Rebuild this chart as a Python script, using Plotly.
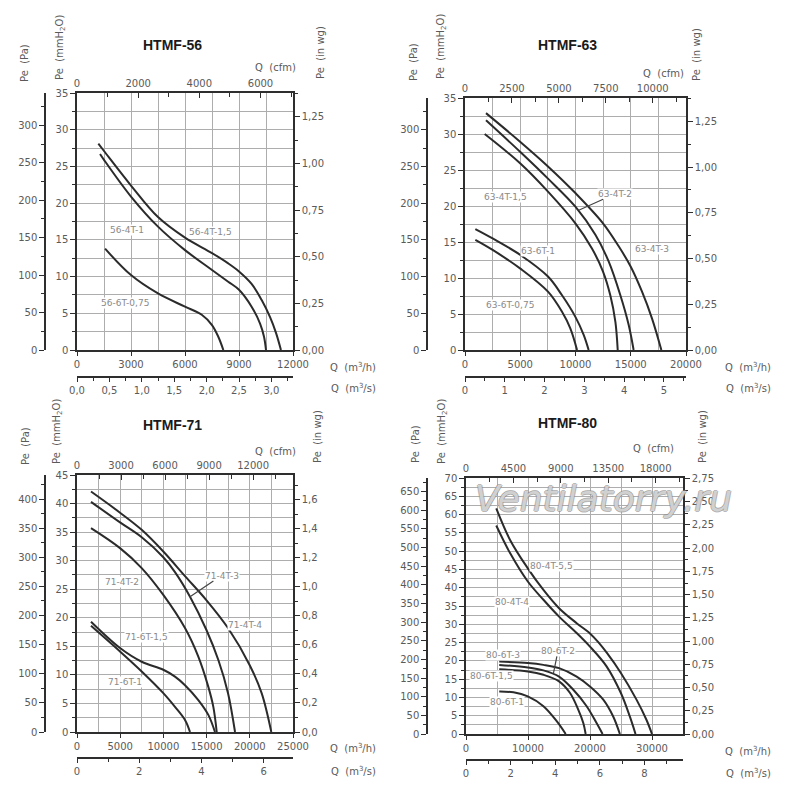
import plotly.graph_objects as go

# ---------------- data (Q in m3/h, Pe in mmH2O) ----------------
titles = ["HTMF-56", "HTMF-63", "HTMF-71", "HTMF-80"]

# HTMF-56
q56_4t15 = [1185, 1500, 3000, 4500, 6000, 7500, 8400, 9000, 9700, 10260, 10720, 11060, 11330]
p56_4t15 = [28.1, 27.1, 22.4, 18.1, 15.3, 13.2, 11.8, 10.7, 9.0, 6.8, 4.5, 2.3, 0]
q56_4t1 = [1280, 1500, 3000, 4500, 6000, 7500, 8400, 9000, 9700, 10170, 10390, 10500]
p56_4t1 = [26.7, 25.9, 20.9, 16.8, 13.6, 10.9, 9.3, 8.2, 5.9, 3.6, 1.8, 0]
q56_6t075 = [1560, 3000, 4500, 6000, 6930, 7500, 7850, 8130]
p56_6t075 = [13.8, 10.2, 7.7, 5.9, 4.8, 3.4, 1.8, 0]

# HTMF-63
q63_4t3 = [1900, 5010, 7510, 9990, 12490, 13910, 14990, 16020, 16920, 17770]
p63_4t3 = [32.9, 28.9, 25.5, 21.8, 17.6, 14.4, 11.6, 8.1, 4.4, 0]
q63_4t2 = [1900, 5010, 7510, 9990, 11800, 13000, 14060, 14810, 15260]
p63_4t2 = [31.9, 27.5, 23.8, 19.9, 16.0, 12.3, 7.6, 3.5, 0]
q63_4t15 = [1780, 5010, 7510, 9990, 11490, 12490, 13150, 13610, 13820]
p63_4t15 = [30.0, 25.9, 22.0, 17.6, 14.1, 10.9, 7.6, 3.9, 0]
q63_6t1 = [935, 2500, 5010, 7510, 8780, 9990, 10740, 11190]
p63_6t1 = [16.8, 15.5, 13.2, 10.2, 7.6, 4.6, 2.1, 0]
q63_6t075 = [935, 2500, 5010, 7510, 8780, 9530, 10140]
p63_6t075 = [15.3, 13.9, 11.3, 8.1, 5.3, 3.0, 0]

# HTMF-71
q71_4t4 = [1620, 4980, 7490, 9990, 12500, 14970, 17480, 19990, 21370, 22490]
p71_4t4 = [42.1, 38.4, 35.4, 31.6, 27.3, 23.1, 18.2, 11.7, 6.8, 0]
q71_4t3 = [1620, 4980, 7490, 9990, 11340, 13080, 14970, 16360, 17480, 18290]
p71_4t3 = [40.3, 36.7, 34.1, 30.6, 28.0, 23.7, 17.9, 12.6, 6.8, 0]
q71_4t2 = [1620, 4980, 7490, 9990, 12500, 14040, 15200, 15780, 16170]
p71_4t2 = [35.7, 32.2, 28.7, 24.0, 18.2, 13.2, 7.9, 4.4, 0]
q71_6t15 = [1620, 4980, 7490, 9990, 11340, 12500, 14040, 15200, 15970]
p71_6t15 = [19.3, 14.7, 12.3, 10.9, 9.7, 8.2, 5.6, 3.0, 0]
q71_6t1 = [1620, 4980, 7490, 9990, 11340, 12500, 13080]
p71_6t1 = [18.6, 14.1, 10.6, 6.8, 4.4, 2.1, 0]

# HTMF-80
q80_4t55 = [4880, 7130, 9970, 12490, 15010, 17850, 19990, 21300, 22670, 24980, 27500, 29100, 30000]
p80_4t55 = [61.7, 53.0, 45.3, 39.4, 34.4, 30.3, 27.5, 25.2, 22.3, 16.7, 9.4, 3.9, 0]
q80_4t4 = [4880, 7130, 9970, 12490, 15010, 17850, 19990, 22670, 24980, 26420, 27340]
p80_4t4 = [57.0, 49.4, 41.7, 36.7, 32.1, 27.6, 23.9, 18.5, 11.2, 4.8, 0]
q80_6t3 = [5360, 9970, 12490, 15010, 17850, 19990, 22140, 23740, 24820]
p80_6t3 = [19.8, 19.4, 18.9, 18.0, 15.7, 13.0, 9.4, 4.8, 0]
q80_6t2 = [5360, 9970, 12490, 15010, 17310, 19460, 21060, 22030]
p80_6t2 = [18.9, 18.2, 17.4, 15.7, 12.1, 7.6, 3.0, 0]
q80_6t15 = [5360, 9970, 12490, 15010, 16780, 18120, 18920, 19300]
p80_6t15 = [17.7, 17.1, 16.2, 14.4, 11.2, 6.6, 3.0, 0]
q80_6t1 = [5360, 7660, 9970, 12490, 14630, 16080]
p80_6t1 = [11.6, 11.4, 10.3, 7.6, 3.5, 0]

curves = [
    [(q56_4t15, p56_4t15), (q56_4t1, p56_4t1), (q56_6t075, p56_6t075)],
    [(q63_4t3, p63_4t3), (q63_4t2, p63_4t2), (q63_4t15, p63_4t15),
     (q63_6t1, p63_6t1), (q63_6t075, p63_6t075)],
    [(q71_4t4, p71_4t4), (q71_4t3, p71_4t3), (q71_4t2, p71_4t2),
     (q71_6t15, p71_6t15), (q71_6t1, p71_6t1)],
    [(q80_4t55, p80_4t55), (q80_4t4, p80_4t4), (q80_6t3, p80_6t3),
     (q80_6t2, p80_6t2), (q80_6t15, p80_6t15), (q80_6t1, p80_6t1)],
]

# curve labels: (text, q, p)
labels56 = [("56-4T-1", 2760, 16.3), ("56-4T-1,5", 7390, 16.1), ("56-6T-0,75", 2670, 6.4)]
labels63 = [("63-4T-1,5", 3650, 21.2), ("63-4T-3", 16920, 14.0),
            ("63-6T-1", 6610, 13.8), ("63-6T-0,75", 4100, 6.2)]
labels71 = [("71-4T-2", 5170, 26.3), ("71-4T-4", 19440, 18.7),
            ("71-6T-1,5", 8060, 16.6), ("71-6T-1", 5560, 8.8)]
labels80 = [("80-4T-5,5", 13830, 46.0), ("80-4T-4", 7400, 36.2), ("80-6T-3", 5970, 21.6),
            ("80-6T-1,5", 4190, 15.9), ("80-6T-1", 6610, 8.75)]
# labels with leader line: (text, label q, label p, curve q, curve p)
leaders = [
    [],
    [("63-4T-2", 13600, 21.7, 10290, 19.4)],
    [("71-4T-3", 16740, 27.4, 13080, 23.7)],
    [("80-6T-2", 14840, 22.7, 14100, 16.6)],
]
curve_labels = [labels56, labels63, labels71, labels80]

# axis ranges / tick steps per chart
q_max = [12000, 20000, 25000, 35000]
p_max = [35, 35, 45, 70]
q_step = [3000, 5000, 5000, 10000]
q_grid = [1500, 2500, 2500, 5000]
cfm_step = [2000, 2500, 3000, 4500]
ms_step = [0.5, 1, 2, 2]
wg_step = [0.25, 0.25, 0.2, 0.25]

PA_PER_MM = 9.80665
MM_PER_INWG = 25.4
M3H_PER_CFM = 1.699
M3H_PER_M3S = 3600.0

# ---------------- layout geometry (pixels of the 800x800 picture) ----------------
W = H = 800
PAGE_OFFSET = 8   # default page body margin of the html page
boxes = [(77, 293, 93, 350), (465, 686, 98, 350), (77, 293, 475, 732), (466, 683, 478, 734)]
pa_axis_x = [45, 427, 45, 427]
ms_axis_y = [377, 377, 758, 760]
title_pos = [(172, 45), (567, 45), (172, 425), (567, 423)]
pa_title = [(25, 63), (413, 62), (25, 446), (415, 444)]
mm_title = [(60, 48), (442, 47), (57, 432), (442, 432)]
wg_title = [(320, 53), (697, 55), (317, 437), (702, 437)]
cfm_title = [(275, 68), (663, 73), (275, 451), (653, 448)]
m3h_title = [(353, 367), (748, 367), (353, 748), (748, 751)]
m3s_title = [(353, 388), (748, 388), (353, 771), (748, 773)]


def fx(px):
    return (px - PAGE_OFFSET) / W


def fy(py):
    return 1 - (py - PAGE_OFFSET) / H


TICKFONT = dict(family="DejaVu Sans", size=10, color="#5a5a5a")
LINEC = "#2e2e2e"
GRIDC = "#adadad"
fig = go.Figure()
layout = dict(
    width=W, height=H, margin=dict(l=0, r=0, t=0, b=0, pad=0, autoexpand=False),
    paper_bgcolor="white", plot_bgcolor="white", showlegend=False,
    separators=",.", autosize=False,
)
annotations = []


def xn(i):
    return "x" if i == 1 else f"x{i}"


def yn(i):
    return "y" if i == 1 else f"y{i}"


def xk(i):
    return "xaxis" if i == 1 else f"xaxis{i}"


def yk(i):
    return "yaxis" if i == 1 else f"yaxis{i}"


for k in range(4):
    x0, x1, y0, y1 = boxes[k]
    xm, xc, xs = 3 * k + 1, 3 * k + 2, 3 * k + 3
    ym, yp, yw = 3 * k + 1, 3 * k + 2, 3 * k + 3
    qmax, pmax = q_max[k], p_max[k]

    layout[xk(xm)] = dict(
        domain=[fx(x0), fx(x1)], anchor=yn(ym), range=[0, qmax],
        tickmode="linear", tick0=0, dtick=q_step[k], tickformat="d",
        ticks="outside", ticklen=4, tickcolor=LINEC, tickfont=TICKFONT,
        showline=True, linecolor=LINEC, linewidth=1.5, zeroline=False,
        showgrid=True, gridcolor=GRIDC, gridwidth=1,
        minor=dict(dtick=q_grid[k], tick0=0, showgrid=True, gridcolor=GRIDC, gridwidth=1, ticks=""),
        fixedrange=True, automargin=False,
    )
    layout[yk(ym)] = dict(
        domain=[fy(y1), fy(y0)], anchor=xn(xm), range=[0, pmax],
        tickmode="linear", tick0=0, dtick=5, tickformat="d",
        ticks="outside", ticklen=5, tickcolor=LINEC, tickfont=TICKFONT,
        showline=True, linecolor=LINEC, linewidth=1.5, zeroline=False,
        showgrid=True, gridcolor=GRIDC, gridwidth=1,
        minor=dict(dtick=2.5, tick0=0, showgrid=True, gridcolor=GRIDC, gridwidth=1,
                   ticks="outside", ticklen=3, tickcolor=LINEC),
        fixedrange=True, automargin=False,
    )
    # top: cfm
    layout[xk(xc)] = dict(
        overlaying=xn(xm), anchor=yn(ym), side="top", range=[0, qmax / M3H_PER_CFM],
        tickmode="linear", tick0=0, dtick=cfm_step[k], tickformat="d",
        ticks="inside", ticklen=5, tickcolor=LINEC, tickfont=TICKFONT,
        showline=True, linecolor=LINEC, linewidth=1.5, zeroline=False, showgrid=False,
        minor=dict(dtick=cfm_step[k] / 2, tick0=0, ticks="inside", ticklen=4, tickcolor=LINEC),
        fixedrange=True, automargin=False,
    )
    # bottom free: m3/s
    layout[xk(xs)] = dict(
        overlaying=xn(xm), anchor="free", position=fy(ms_axis_y[k]), side="bottom",
        range=[0, qmax / M3H_PER_M3S],
        tickmode="linear", tick0=0, dtick=ms_step[k],
        tickformat=".1f" if ms_step[k] < 1 else "d",
        ticks="outside", ticklen=4, tickcolor=LINEC, tickfont=TICKFONT,
        showline=True, linecolor=LINEC, linewidth=1.5, zeroline=False, showgrid=False,
        minor=dict(dtick=ms_step[k] / 2, tick0=0, ticks="outside", ticklen=3, tickcolor=LINEC),
        fixedrange=True, automargin=False,
    )
    # left free: Pa
    layout[yk(yp)] = dict(
        overlaying=yn(ym), anchor="free", position=fx(pa_axis_x[k]), side="left",
        range=[0, pmax * PA_PER_MM],
        tickmode="linear", tick0=0, dtick=50, tickformat="d",
        ticks="outside", ticklen=5, tickcolor=LINEC, tickfont=TICKFONT,
        showline=True, linecolor=LINEC, linewidth=1.5, zeroline=False, showgrid=False,
        minor=dict(dtick=25, tick0=0, ticks="outside", ticklen=3, tickcolor=LINEC),
        fixedrange=True, automargin=False,
    )
    # right: in wg
    layout[yk(yw)] = dict(
        overlaying=yn(ym), anchor=xn(xm), side="right", range=[0, pmax / MM_PER_INWG],
        tickmode="linear", tick0=0, dtick=wg_step[k],
        tickformat=".1f" if wg_step[k] == 0.2 else ".2f",
        ticks="outside", ticklen=5, tickcolor=LINEC, tickfont=TICKFONT,
        showline=True, linecolor=LINEC, linewidth=1.5, zeroline=False, showgrid=False,
        minor=dict(dtick=wg_step[k] / 2, tick0=0, ticks="outside", ticklen=3, tickcolor=LINEC),
        fixedrange=True, automargin=False,
    )

    # invisible anchor traces so every auxiliary axis is drawn
    for xa, ya in [(xc, ym), (xs, ym), (xm, yp), (xm, yw)]:
        fig.add_trace(go.Scatter(x=[None], y=[None], xaxis=xn(xa), yaxis=yn(ya),
                                 mode="lines", hoverinfo="skip", showlegend=False))

    for q, p in curves[k]:
        fig.add_trace(go.Scatter(x=q, y=p, xaxis=xn(xm), yaxis=yn(ym), mode="lines",
                                 line=dict(color="#2b2b2b", width=2, shape="spline", smoothing=1.0),
                                 hoverinfo="skip", showlegend=False))

    lblfont = dict(family="DejaVu Sans", size=9, color="#8a8a8a")
    for text, q, p in curve_labels[k]:
        annotations.append(dict(xref=xn(xm), yref=yn(ym), x=q, y=p, text=text, showarrow=False,
                                font=lblfont, bgcolor="white", borderpad=0))
    for text, q, p, lq, lp in leaders[k]:
        annotations.append(dict(xref=xn(xm), yref=yn(ym), x=lq, y=lp, axref=xn(xm), ayref=yn(ym),
                                ax=q, ay=p, text=text, showarrow=True, arrowhead=0, arrowwidth=1.2,
                                arrowcolor="#444", standoff=0, startstandoff=0,
                                font=lblfont, bgcolor="white", borderpad=0))

    # titles
    tx, ty = title_pos[k]
    annotations.append(dict(xref="paper", yref="paper", x=fx(tx), y=fy(ty), text=titles[k],
                            showarrow=False, xanchor="center", yanchor="middle",
                            font=dict(family="Liberation Sans", size=14, color="#1a1a1a", weight="bold")))
    axfont = dict(family="DejaVu Sans", size=10, color="#5a5a5a")
    for (px, py), txt in [(pa_title[k], "Pe  (Pa)"), (mm_title[k], "Pe  (mmH<sub>2</sub>O)"),
                          (wg_title[k], "Pe  (in wg)")]:
        annotations.append(dict(xref="paper", yref="paper", x=fx(px), y=fy(py), text=txt,
                                showarrow=False, textangle=-90, xanchor="center", yanchor="middle",
                                font=axfont))
    for (px, py), txt in [(cfm_title[k], "Q  (cfm)"), (m3h_title[k], "Q  (m<sup>3</sup>/h)"),
                          (m3s_title[k], "Q  (m<sup>3</sup>/s)")]:
        annotations.append(dict(xref="paper", yref="paper", x=fx(px), y=fy(py), text=txt,
                                showarrow=False, xanchor="center", yanchor="middle", font=axfont))

# watermark
annotations.append(dict(xref="paper", yref="paper", x=fx(603), y=fy(498), text="Ventilatorry.ru",
                        showarrow=False, xanchor="center", yanchor="middle",
                        font=dict(family="DejaVu Sans", size=36, color="rgba(255,255,255,0.6)",
                                  style="italic",
                                  shadow="1px 0 0 #8a8a8a, -1px 0 0 #8a8a8a, 0 1px 0 #8a8a8a, 0 -1px 0 #8a8a8a")))

layout["annotations"] = annotations
fig.update_layout(**layout)
fig.write_html("out.html")
